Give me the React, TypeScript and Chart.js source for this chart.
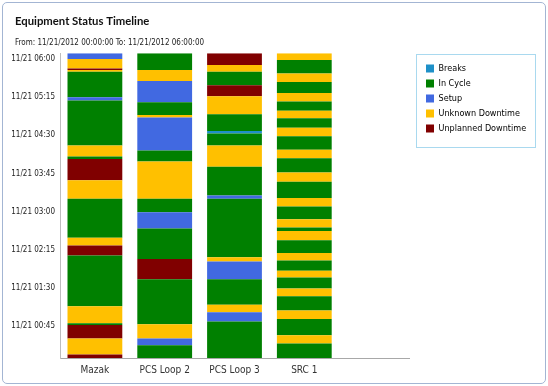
import React, { useEffect, useRef } from "react";
import { Chart, registerables } from "chart.js";

Chart.register(...registerables);

// ---- data ----
const STATUSES = ["Breaks", "In Cycle", "Setup", "Unknown Downtime", "Unplanned Downtime"];
const STATUS_COLORS = ["#1e90c8", "#008000", "#4169e1", "#ffc000", "#800000"];
const EQUIPMENT = ["Mazak", "PCS Loop 2", "PCS Loop 3", "SRC 1"];
const DATE_PREFIX = "11/21";
const Y_TICK_STEP = 45; // minutes
const RANGE_MINUTES = 360; // 00:00 -> 06:00

// status index per segment (bottom to top) and segment end times in minutes from 00:00
const mazakStatus = [4, 3, 4, 1, 3, 1, 4, 3, 1, 3, 4, 1, 3, 1, 2, 1, 3, 4, 3, 2];
const mazakEnd = [4, 23, 39, 41, 61, 121, 133, 142, 188, 210, 235, 238, 251, 304, 308, 338, 340, 342, 353, 360];

const pcs2Status = [1, 2, 3, 1, 4, 1, 2, 1, 3, 1, 2, 3, 1, 2, 3, 1];
const pcs2End = [15, 23, 40, 93, 117, 153, 172, 188, 232, 245, 284, 287, 302, 327, 340, 360];

const pcs3Status = [1, 2, 3, 1, 2, 3, 1, 2, 1, 3, 1, 0, 1, 3, 4, 1, 3, 4];
const pcs3End = [43, 54, 63, 93, 114, 119, 188, 192, 226, 251, 265, 268, 288, 309, 322, 338, 346, 360];

const src1Status = [1, 3, 1, 3, 1, 3, 1, 3, 1, 3, 1, 3, 1, 3, 1, 3, 1, 3, 1, 3, 1, 3, 1, 3, 1, 3, 1, 3, 1, 3];
const src1End = [17, 27, 46, 56, 73, 82, 95, 103, 115, 124, 139, 150, 154, 164, 179, 189, 208, 219, 236, 246, 262, 272, 283, 292, 303, 313, 326, 336, 352, 360];

const SEGMENT_STATUS = [mazakStatus, pcs2Status, pcs3Status, src1Status];
const SEGMENT_END = [mazakEnd, pcs2End, pcs3End, src1End];

const TITLE_FONT = "Lato, 'Open Sans', sans-serif";
const FONT = "'DejaVu Sans Condensed', 'DejaVu Sans', sans-serif";

function pad2(n: number) {
  return n < 10 ? "0" + n : "" + n;
}

function buildDatasets() {
  const maxSeg = Math.max(...SEGMENT_END.map((a) => a.length));
  const datasets: any[] = [];
  for (let k = 0; k < maxSeg; k++) {
    const data: any[] = [];
    const colors: string[] = [];
    EQUIPMENT.forEach((_, i) => {
      const ends = SEGMENT_END[i];
      const sts = SEGMENT_STATUS[i];
      if (k < ends.length) {
        const start = k === 0 ? 0 : ends[k - 1];
        data.push([start, ends[k]]);
        colors.push(STATUS_COLORS[sts[k]]);
      } else {
        data.push(null);
        colors.push("rgba(0,0,0,0)");
      }
    });
    data.push(null);
    colors.push("rgba(0,0,0,0)");
    datasets.push({
      label: "segment " + k,
      data,
      backgroundColor: colors,
      borderWidth: 0,
      grouped: false,
      categoryPercentage: 1,
      barPercentage: 0.785,
    });
  }
  return datasets;
}

const legendPlacer = {
  id: "legendPlacer",
  afterLayout(chart: any) {
    const lg = chart.legend;
    if (lg) {
      const w = lg.width;
      const h = lg.height;
      lg.left = 420;
      lg.top = 58;
      lg.right = lg.left + w;
      lg.bottom = lg.top + h;
    }
    // let y tick labels extend into the left padding (avoid clipping)
    const ys = chart.scales.y;
    if (ys) ys.left = 0;
  },
  afterDraw(chart: any) {
    const lg = chart.legend;
    if (!lg || !lg.legendHitBoxes || !lg.legendHitBoxes.length) return;
    const hb = lg.legendHitBoxes;
    let right = 0;
    hb.forEach((b: any) => {
      right = Math.max(right, b.left + b.width);
    });
    const last = hb[hb.length - 1];
    const left = lg.left - 4;
    const top = lg.top - 4;
    const bottom = last.top + last.height + 14;
    right = right + 9;
    const ctx = chart.ctx;
    ctx.save();
    ctx.strokeStyle = "#a9d9ef";
    ctx.lineWidth = 1;
    ctx.strokeRect(Math.round(left) + 0.5, Math.round(top) + 0.5, Math.round(right - left), Math.round(bottom - top));
    ctx.restore();
  },
};

function ChartView() {
  const ref = useRef<HTMLCanvasElement | null>(null);
  useEffect(() => {
    if (!ref.current) return;
    const chart = new Chart(ref.current, {
      type: "bar",
      data: {
        labels: [...EQUIPMENT, ""],
        datasets: buildDatasets(),
      },
      options: {
        responsive: false,
        animation: false,
        devicePixelRatio: 1,
        layout: { padding: { left: 15, right: 139, top: 0, bottom: 0 } },
        scales: {
          x: {
            type: "category",
            grid: { display: false, drawTicks: false },
            border: { display: true, color: "#a8a8a8" },
            ticks: {
              padding: 6,
              color: "#333",
              font: { family: FONT, size: 10 },
              maxRotation: 0,
              autoSkip: false,
            },
            afterFit(scale: any) {
              scale.height = 28;
            },
          },
          y: {
            type: "linear",
            min: 0,
            max: RANGE_MINUTES,
            grid: { display: false, drawTicks: false },
            border: { display: true, color: "#bdbdbd" },
            ticks: {
              stepSize: Y_TICK_STEP,
              padding: 5,
              labelOffset: 6,
              color: "#222",
              font: { family: FONT, size: 8 },
              callback: (v: any) => {
                const m = Number(v);
                if (m === 0) return "";
                return DATE_PREFIX + " " + pad2(Math.floor(m / 60)) + ":" + pad2(m % 60);
              },
            },
            afterFit(scale: any) {
              scale.width = 45;
            },
          },
        },
        plugins: {
          title: {
            display: true,
            text: "Equipment Status Timeline",
            align: "start",
            color: "#111",
            font: { family: TITLE_FONT, size: 11.3, weight: "bold" },
            padding: { top: 15, bottom: 8 },
          },
          subtitle: {
            display: true,
            text: "From: 11/21/2012 00:00:00 To: 11/21/2012 06:00:00",
            align: "start",
            color: "#222",
            font: { family: FONT, size: 8 },
            padding: { top: 2, bottom: 5 },
          },
          legend: {
            display: true,
            position: "chartArea",
            align: "start",
            labels: {
              boxWidth: 8,
              boxHeight: 8,
              padding: 6,
              color: "#222",
              font: { family: FONT, size: 9 },
              generateLabels: () =>
                STATUSES.map((s, i) => ({
                  text: s,
                  fillStyle: STATUS_COLORS[i],
                  strokeStyle: STATUS_COLORS[i],
                  lineWidth: 0,
                  hidden: false,
                  datasetIndex: i,
                })),
            },
            onClick: () => {},
          },
          tooltip: { enabled: false },
        },
      } as any,
      plugins: [legendPlacer],
    });
    return () => chart.destroy();
  }, []);
  return <canvas ref={ref} width={548} height={386} style={{ display: "block", width: 548, height: 386 }} />;
}

export default function App() {
  return (
    <div style={{ position: "fixed", left: 0, top: 0, width: 548, height: 386, background: "#fff", overflow: "hidden" }}>
      <ChartView />
      <div
        style={{
          position: "absolute",
          left: 2,
          top: 2,
          width: 544,
          height: 382,
          boxSizing: "border-box",
          border: "1px solid #a3b5d3",
          borderRadius: 5,
          pointerEvents: "none",
        }}
      />
    </div>
  );
}
